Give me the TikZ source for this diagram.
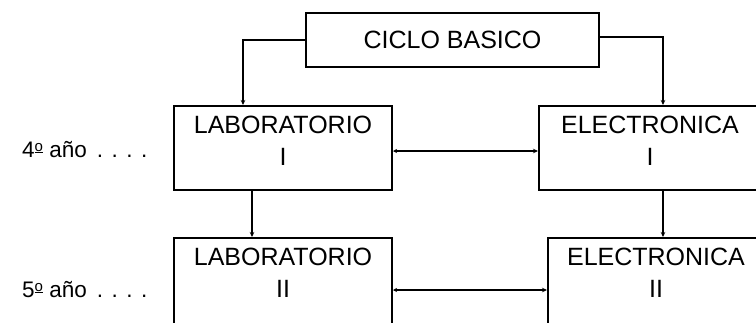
\documentclass[tikz,border=0pt]{standalone}
\usepackage{fontspec}
\setmainfont{Liberation Sans}
\usetikzlibrary{arrows.meta}
\newcommand\boxtxt[3]{\parbox[c][#1][t]{#2}{\centering\vspace*{10pt}#3}}
\newcommand\ordo{\raisebox{6pt}{\fontsize{15}{15}\selectfont\underline{o}}}
\begin{document}
\begin{tikzpicture}[x=1pt,y=-1pt,
  boxnode/.style={draw, line width=2pt, inner sep=0pt, anchor=north west,
    font=\fontsize{25}{32}\selectfont},
  conn/.style={line width=1.5pt, -{Stealth[length=5pt,width=4.5pt]}},
  biconn/.style={line width=1.5pt, {Stealth[length=4pt,width=4pt]}-{Stealth[length=5pt,width=4.5pt]}},
  yearlbl/.style={anchor=base west, inner sep=0pt, font=\fontsize{22.5}{26}\selectfont}]
\useasboundingbox (0,0) rectangle (756,322);
\clip (0,0) rectangle (756,322);
\fill[white] (0,0) rectangle (756,322);
% boxes
\node[boxnode] (cb) at (305,12) {\parbox[c][54pt][c]{293pt}{\centering CICLO BASICO}};
\node[boxnode] (lab1) at (173,105) {\boxtxt{84pt}{218pt}{LABORATORIO\\I}};
\node[boxnode] (ele1) at (538,105) {\boxtxt{84pt}{222pt}{ELECTRONICA\\I}};
\node[boxnode] (lab2) at (173,237) {\boxtxt{110pt}{218pt}{LABORATORIO\\II}};
\node[boxnode] (ele2) at (547,237) {\boxtxt{110pt}{216pt}{ELECTRONICA\\II}};
% year labels
\node[yearlbl] (y4) at (22,157) {4\ordo\ año\hspace{10pt}.\hspace{8.5pt}.\hspace{8.5pt}.\hspace{8.5pt}.};
\node[yearlbl] (y5) at (22,297) {5\ordo\ año\hspace{10pt}.\hspace{8.5pt}.\hspace{8.5pt}.\hspace{8.5pt}.};
% connectors
\draw[conn] (cb.west) -| ([xshift=70pt]lab1.north west);
\draw[conn] ([yshift=3pt]cb.east) -| ([xshift=125pt]ele1.north west);
\draw[biconn] ([yshift=-3pt]lab1.east) -- ([yshift=-3pt]lab1.east -| ele1.west);
\draw[conn] ([xshift=79pt]lab1.south west) -- ([xshift=79pt]lab2.north west);
\draw[conn] ([xshift=116pt]ele2.north west |- ele1.south) -- ([xshift=116pt]ele2.north west);
\draw[biconn] ([yshift=-53pt]lab2.north east) -- ([yshift=-53pt]lab2.north east -| ele2.west);
\end{tikzpicture}
\end{document}
